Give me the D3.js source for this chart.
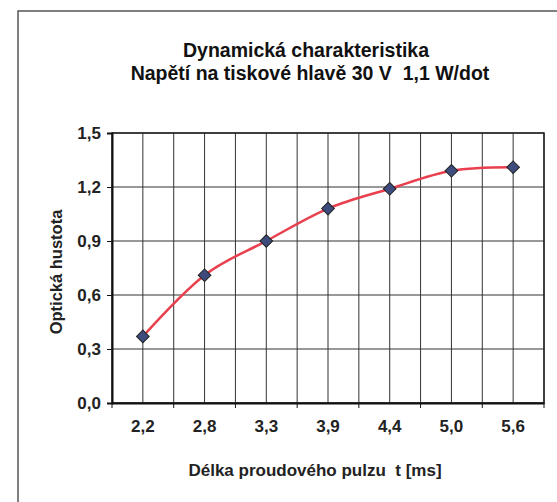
<!DOCTYPE html>
<html>
<head>
<meta charset="utf-8">
<script src="https://cdn.jsdelivr.net/npm/d3@7"></script>
<style>
  body { margin: 0; background: #fff; }
  svg { font-family: "Liberation Sans", Arial, sans-serif; font-weight: bold; }
</style>
</head>
<body>
<svg id="chart" width="557" height="502"></svg>
<script>
// pulse length categories [ms]
const categories = ["2,2", "2,8", "3,3", "3,9", "4,4", "5,0", "5,6"];
// optical density values
const density = [0.37, 0.71, 0.90, 1.08, 1.19, 1.29, 1.31];
const yTicks = [0, 0.3, 0.6, 0.9, 1.2, 1.5];

const svg = d3.select('#chart');
const plot = { left: 112, right: 544, top: 133, bottom: 403 };

// chart area frame (scan shows only top and left edge)
svg.append('path')
  .attr('d', 'M18,502 L18,11 L557,11')
  .attr('fill', 'none').attr('stroke', '#555').attr('stroke-width', 1.5);

// title
const title = svg.append('text').attr('text-anchor', 'middle').attr('font-size', 19.5).attr('fill', '#111');
title.append('tspan').attr('x', 306).attr('y', 57).text('Dynamická charakteristika');
title.append('tspan').attr('x', 310).attr('y', 80).text('Napětí na tiskové hlavě 30 V\u00a0\u00a01,1 W/dot');

const x = d3.scaleBand().domain(categories).range([plot.left, plot.right]);
const y = d3.scaleLinear().domain([0, 1.5]).range([plot.bottom, plot.top]);

// gridlines: horizontal at ticks, vertical at category edges and centres
const g = svg.append('g').attr('stroke', '#333').attr('stroke-width', 1);
yTicks.forEach(t => {
  g.append('line').attr('x1', plot.left).attr('x2', plot.right).attr('y1', y(t)).attr('y2', y(t));
});
categories.forEach(c => {
  const cx = x(c) + x.bandwidth() / 2;
  g.append('line').attr('x1', cx).attr('x2', cx).attr('y1', plot.top).attr('y2', plot.bottom);
  g.append('line').attr('x1', x(c) + x.bandwidth()).attr('x2', x(c) + x.bandwidth())
    .attr('y1', plot.top).attr('y2', plot.bottom);
});
svg.append('rect')
  .attr('x', plot.left).attr('y', plot.top)
  .attr('width', plot.right - plot.left).attr('height', plot.bottom - plot.top)
  .attr('fill', 'none').attr('stroke', '#222').attr('stroke-width', 1.5);

// y axis
const yAxis = svg.append('g').attr('transform', `translate(${plot.left},0)`)
  .call(d3.axisLeft(y).tickValues(yTicks).tickSize(5).tickPadding(6)
    .tickFormat(d => d3.format('.1f')(d).replace('.', ',')));
yAxis.select('.domain').attr('stroke', '#111').attr('stroke-width', 2);
yAxis.selectAll('.tick line').attr('stroke', '#111');
yAxis.selectAll('text').attr('font-size', 17).attr('fill', '#222')
  .attr('font-family', '"Liberation Sans", Arial, sans-serif').attr('font-weight', 'bold');

// x axis: ticks at category boundaries, labels at centres
const xAxis = svg.append('g').attr('transform', `translate(0,${plot.bottom})`)
  .call(d3.axisBottom(x).tickSize(0).tickPadding(17));
xAxis.select('.domain').attr('stroke', '#111').attr('stroke-width', 2);
xAxis.selectAll('text').attr('font-size', 17).attr('fill', '#222')
  .attr('font-family', '"Liberation Sans", Arial, sans-serif').attr('font-weight', 'bold');
const edges = [plot.left].concat(categories.map(c => x(c) + x.bandwidth()));
xAxis.selectAll('.edge').data(edges).enter().append('line')
  .attr('x1', d => d).attr('x2', d => d).attr('y1', 0).attr('y2', 5)
  .attr('stroke', '#111');

// axis titles
svg.append('text').attr('x', 315).attr('y', 476).attr('text-anchor', 'middle')
  .attr('font-size', 17).attr('fill', '#222').text('Délka proudového pulzu\u00a0\u00a0t [ms]');
svg.append('text').attr('transform', 'translate(62,272) rotate(-90)').attr('text-anchor', 'middle')
  .attr('font-size', 16.5).attr('fill', '#222').text('Optická hustota');

// smoothed line
const pts = categories.map((c, i) => [x(c) + x.bandwidth() / 2, y(density[i])]);
svg.append('path')
  .attr('d', d3.line().curve(d3.curveCardinal.tension(0))(pts))
  .attr('fill', 'none').attr('stroke', '#e8404e').attr('stroke-width', 2.5);

// diamond markers
svg.selectAll('.marker').data(pts).enter().append('path')
  .attr('d', d3.symbol(d3.symbolSquare, 80)())
  .attr('transform', d => `translate(${d[0]},${d[1]}) rotate(45)`)
  .attr('fill', '#3d4c7c').attr('stroke', '#222').attr('stroke-width', 1);
</script>
</body>
</html>
